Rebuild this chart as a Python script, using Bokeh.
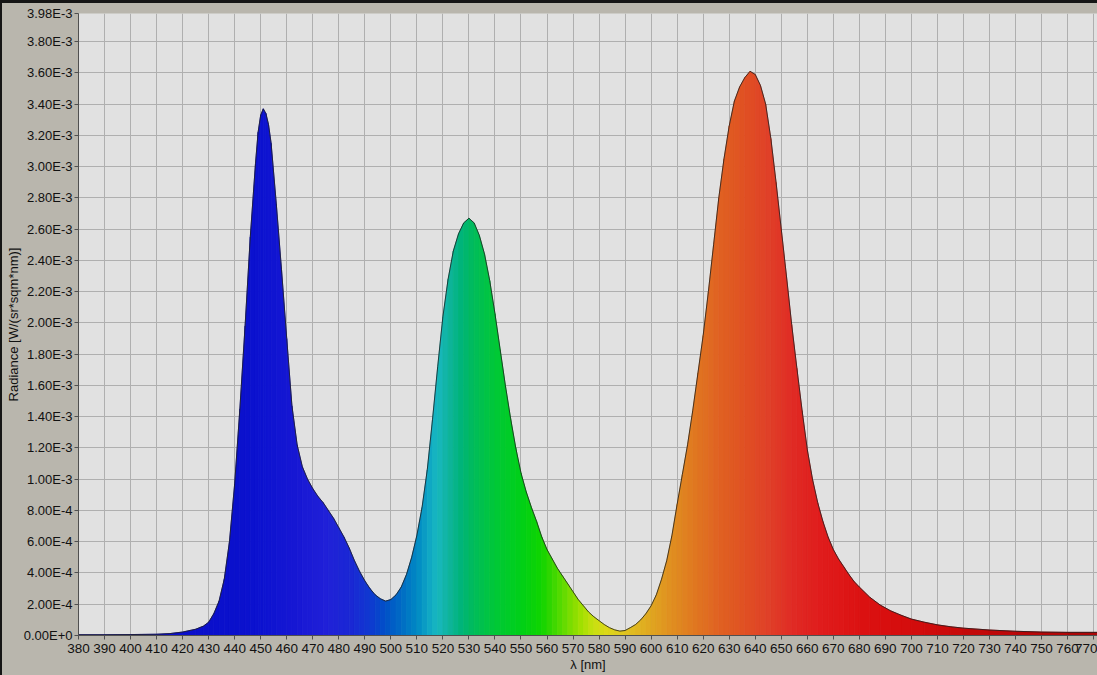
import numpy as np
from bokeh.plotting import figure
from bokeh.models import FixedTicker, Range1d
from bokeh.embed import file_html
from bokeh.resources import INLINE

# ---------------- data ----------------
wavelength_nm = [
    380, 390, 400, 410, 415, 420, 425, 428, 430, 432, 434, 436, 438, 440,
    442, 444, 446, 448, 449, 450, 451, 452, 453, 454, 456, 458, 460, 462,
    464, 466, 468, 470, 472, 474, 476, 478, 480, 482, 484, 486, 488, 490,
    492, 494, 496, 498, 500, 502, 504, 506, 508, 510, 512, 514, 516, 518,
    520, 522, 524, 526, 528, 530, 532, 534, 536, 538, 540, 542, 544, 546,
    548, 550, 552, 554, 556, 558, 560, 562, 564, 566, 568, 570, 572, 574,
    576, 578, 580, 582, 584, 586, 588, 590, 592, 594, 596, 598, 600, 602,
    604, 606, 608, 610, 612, 614, 616, 618, 620, 622, 624, 626, 628, 630,
    632, 634, 636, 638, 640, 642, 644, 646, 648, 650, 652, 654, 656, 658,
    660, 662, 664, 666, 668, 670, 672, 674, 676, 678, 680, 684, 688, 692,
    696, 700, 705, 710, 715, 720, 730, 740, 750, 760, 771.5,
]
# radiance in units of 1E-3 W/(sr*sqm*nm)
radiance_e3 = [
    0.005, 0.005, 0.006, 0.008, 0.012, 0.022, 0.040, 0.060, 0.085, 0.14, 0.22, 0.36, 0.60, 0.97,
    1.45, 1.98, 2.55, 3.02, 3.22, 3.33, 3.37, 3.34, 3.27, 3.15, 2.76, 2.34, 1.90, 1.47,
    1.22, 1.08, 1.00, 0.94, 0.89, 0.85, 0.80, 0.75, 0.69, 0.63, 0.56, 0.48, 0.41, 0.35,
    0.30, 0.26, 0.235, 0.22, 0.23, 0.26, 0.31, 0.39, 0.50, 0.64, 0.82, 1.06, 1.38, 1.72,
    2.04, 2.28, 2.46, 2.57, 2.64, 2.67, 2.64, 2.56, 2.44, 2.27, 2.06, 1.83, 1.60, 1.39,
    1.20, 1.04, 0.92, 0.82, 0.73, 0.63, 0.55, 0.49, 0.43, 0.38, 0.33, 0.28, 0.23, 0.19,
    0.15, 0.12, 0.095, 0.07, 0.05, 0.036, 0.028, 0.032, 0.05, 0.07, 0.10, 0.14, 0.19, 0.26,
    0.36, 0.48, 0.64, 0.84, 1.03, 1.22, 1.44, 1.68, 1.92, 2.20, 2.50, 2.80, 3.05, 3.26,
    3.42, 3.51, 3.57, 3.61, 3.59, 3.52, 3.40, 3.18, 2.90, 2.60, 2.30, 1.99, 1.71, 1.44,
    1.19, 1.00, 0.85, 0.73, 0.63, 0.55, 0.49, 0.44, 0.39, 0.345, 0.31, 0.245, 0.195, 0.158,
    0.13, 0.105, 0.085, 0.068, 0.056, 0.047, 0.035, 0.027, 0.022, 0.020, 0.020,
]

x_tick_values = list(range(380, 780, 10))
y_tick_values = [0.0, 0.0002, 0.0004, 0.0006, 0.0008, 0.001, 0.0012, 0.0014, 0.0016,
                 0.0018, 0.002, 0.0022, 0.0024, 0.0026, 0.0028, 0.003, 0.0032, 0.0034,
                 0.0036, 0.0038, 0.00398]
y_tick_labels = ["0.00E+0", "2.00E-4", "4.00E-4", "6.00E-4", "8.00E-4", "1.00E-3",
                 "1.20E-3", "1.40E-3", "1.60E-3", "1.80E-3", "2.00E-3", "2.20E-3",
                 "2.40E-3", "2.60E-3", "2.80E-3", "3.00E-3", "3.20E-3", "3.40E-3",
                 "3.60E-3", "3.80E-3", "3.98E-3"]

# spectral colour scale (style)
color_stops_nm = [380, 440, 450, 465, 475, 485, 492, 498, 505, 510, 515, 518, 522, 527,
                  532, 540, 550, 558, 563, 568, 573, 578, 583, 590, 598, 606, 615, 625,
                  635, 645, 655, 665, 680, 700, 730, 771.5]
color_stops_hex = ["#0a0ac8", "#0a10cc", "#0c12d0", "#1818d4", "#2020d8", "#1a28d4",
                   "#1038d0", "#0050c8", "#0070c4", "#0088c4", "#10a8c4", "#18b8c0",
                   "#10b4a0", "#00b47a", "#00bc5a", "#00c838", "#00d018", "#10d400",
                   "#40d800", "#70dc00", "#a0e000", "#c8e010", "#dcd818", "#e0c420",
                   "#e0ac20", "#e09420", "#e07c20", "#e06422", "#e05222", "#e04028",
                   "#e02a24", "#e01c1c", "#dc1212", "#d40c0c", "#c00808", "#a80606"]

_stop_rgb = np.array([[int(h[i:i + 2], 16) for i in (1, 3, 5)] for h in color_stops_hex], float)


def spectral_color(lam):
    r, g, b = (int(round(np.interp(lam, color_stops_nm, _stop_rgb[:, k]))) for k in range(3))
    return "#%02x%02x%02x" % (r, g, b)


lam = np.array(wavelength_nm, float)
rad = np.array(radiance_e3, float) * 1e-3

xs, ys, cols = [], [], []
for i in range(len(lam) - 1):
    xs.append([lam[i], lam[i], lam[i + 1], lam[i + 1]])
    ys.append([0.0, rad[i], rad[i + 1], 0.0])
    cols.append(spectral_color(0.5 * (lam[i] + lam[i + 1])))

# ---------------- figure ----------------
p = figure(width=1095, height=672, output_backend="svg", toolbar_location=None,
           x_range=Range1d(380, 771.5), y_range=Range1d(0, 0.00398),
           min_border_left=76, min_border_right=0, min_border_top=10, min_border_bottom=40)

p.background_fill_color = "#e1e1e1"
p.border_fill_color = "#b9b6ad"
p.outline_line_color = None

p.patches(xs, ys, fill_color=cols, line_color=cols, line_width=0.8)
p.line(lam, rad, line_color="#1e1e1e", line_alpha=0.8, line_width=1)

for ax in (p.xaxis[0], p.yaxis[0]):
    ax.axis_line_color = "#505050"
    ax.major_tick_line_color = "#505050"
    ax.major_tick_out = 4
    ax.major_tick_in = 0
    ax.minor_tick_line_color = None
    ax.major_label_text_font = "Liberation Sans"
    ax.major_label_text_color = "#111111"
    ax.axis_label_text_font = "Liberation Sans"
    ax.axis_label_text_font_style = "normal"
    ax.axis_label_text_color = "#111111"
    ax.axis_label_text_font_size = "13px"

p.xaxis.ticker = FixedTicker(ticks=x_tick_values)
p.xaxis.major_label_text_font_size = "13.5px"
p.xaxis.major_label_standoff = 4
p.xaxis.axis_label = "λ [nm]"
p.xaxis.axis_label_standoff = 1

p.yaxis.ticker = FixedTicker(ticks=y_tick_values)
p.yaxis.major_label_overrides = {v: s for v, s in zip(y_tick_values, y_tick_labels)}
p.yaxis.major_label_text_font_size = "13px"
p.yaxis.major_label_standoff = 2
p.yaxis.axis_label = "Radiance [W/(sr*sqm*nm)]"
p.yaxis.axis_label_standoff = 0

p.grid.grid_line_color = "#afafaf"
p.grid.grid_line_width = 1

template = """
{% block postamble %}
<style>
html, body { margin: 0; padding: 0; overflow: hidden; background-color: #b9b6ad; }
body { border-top: 3px solid #151515; border-left: 2px solid #151515; }
</style>
{% endblock %}
"""

open("out.html", "w").write(file_html(p, INLINE, title="Spectrum", template=template))
